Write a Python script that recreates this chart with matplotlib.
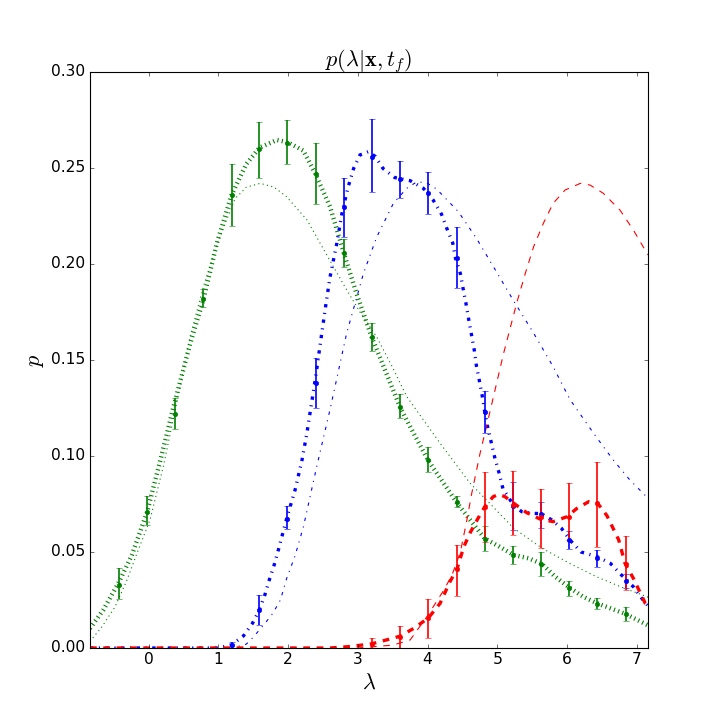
import matplotlib
matplotlib.use("Agg")
import matplotlib.pyplot as plt

# bin centres of the sampled histograms
bin_x = [-0.43, -0.02, 0.38, 0.78, 1.19, 1.59, 1.99, 2.40, 2.80, 3.21,
         3.61, 4.01, 4.42, 4.82, 5.22, 5.63, 6.03, 6.43, 6.84]

# green samples (all bins)
green_p = [0.033, 0.071, 0.122, 0.182, 0.236, 0.260, 0.263, 0.247, 0.2056, 0.162,
           0.1257, 0.0978, 0.0762, 0.0569, 0.0485, 0.0438, 0.0313, 0.023, 0.0177]
green_lo = [0.0254, 0.064, 0.114, 0.1774, 0.2198, 0.245, 0.252, 0.2313, 0.1983, 0.1547,
            0.1196, 0.0915, 0.0733, 0.0503, 0.0438, 0.0376, 0.0271, 0.0203, 0.0141]
green_hi = [0.0415, 0.079, 0.130, 0.1868, 0.2519, 0.274, 0.275, 0.263, 0.2128, 0.1691,
            0.1321, 0.1045, 0.0793, 0.0636, 0.0532, 0.0501, 0.035, 0.0261, 0.0214]

# blue samples (from bin 1.19 on)
blue_p = [0.0016, 0.0198, 0.067, 0.138, 0.2295, 0.2559, 0.2441, 0.2368, 0.2033, 0.123,
          0.0741, 0.0699, 0.0564, 0.047, 0.035]
blue_lo = [0.0, 0.012, 0.062, 0.125, 0.2139, 0.2373, 0.2342, 0.2259, 0.1873, 0.112,
           0.0616, 0.0626, 0.0517, 0.0423, 0.0313]
blue_hi = [0.0033, 0.0276, 0.074, 0.1509, 0.245, 0.2753, 0.2538, 0.2477, 0.2194, 0.134,
           0.0866, 0.0762, 0.061, 0.051, 0.0386]

# red samples (from bin 3.21 on)
red_p = [0.0022, 0.0057, 0.0156, 0.041, 0.0736, 0.0745, 0.068, 0.0683, 0.0753, 0.0435]
red_lo = [0.0, 0.0, 0.005, 0.0271, 0.055, 0.0589, 0.0519, 0.0563, 0.0528, 0.030]
red_hi = [0.0052, 0.0115, 0.0254, 0.0537, 0.0915, 0.0924, 0.0826, 0.0858, 0.097, 0.0585]

# posterior curves (thick)
green_fit_x = [-0.84, -0.65, -0.43, -0.24, -0.02, 0.17, 0.36, 0.6, 0.79, 0.98, 1.19, 1.4,
               1.59, 1.84, 1.99, 2.22, 2.39, 2.6, 2.8, 2.98, 3.2, 3.37, 3.61, 3.8, 4.01,
               4.23, 4.42, 4.61, 4.82, 5.03, 5.23, 5.45, 5.64, 5.83, 6.04, 6.23, 6.43,
               6.62, 6.84, 7.16]
green_fit_y = [0.0102, 0.0198, 0.034, 0.0484, 0.071, 0.098, 0.126, 0.159, 0.182, 0.211,
               0.236, 0.252, 0.2606, 0.2646, 0.2635, 0.259, 0.247, 0.230, 0.2056, 0.1847,
               0.1618, 0.1465, 0.125, 0.1118, 0.0976, 0.0858, 0.0757, 0.0667, 0.057,
               0.0528, 0.0485, 0.0467, 0.0438, 0.0371, 0.0313, 0.0267, 0.0233, 0.0207,
               0.0177, 0.0118]

blue_fit_x = [-0.84, 1.0, 1.19, 1.36, 1.49, 1.59, 1.67, 1.73, 1.80, 1.86, 1.98, 2.10, 2.20,
              2.27, 2.33, 2.39, 2.46, 2.53, 2.60, 2.70, 2.77, 2.86, 2.94, 3.03, 3.15,
              3.25, 3.36, 3.53, 3.75, 3.94, 4.08, 4.20, 4.275, 4.36, 4.40, 4.47, 4.51,
              4.55, 4.59, 4.63, 4.67, 4.70, 4.74, 4.78, 4.82, 4.86, 4.91, 4.96, 5.02,
              5.08, 5.23, 5.35, 5.52, 5.63, 5.78, 5.92, 6.04, 6.20, 6.43, 6.62, 6.78,
              6.95, 7.07, 7.16]
blue_fit_y = [0.0, 0.0, 0.0016, 0.0063, 0.0129, 0.020, 0.028, 0.0354, 0.0432, 0.051,
              0.0675, 0.0823, 0.098, 0.112, 0.126, 0.140, 0.158, 0.176, 0.193, 0.211,
              0.226, 0.240, 0.2498, 0.2568, 0.2585, 0.256, 0.2498, 0.245, 0.2434, 0.2394,
              0.2333, 0.2259, 0.2186, 0.211, 0.203, 0.195, 0.187, 0.1795, 0.171, 0.163,
              0.155, 0.147, 0.1396, 0.132, 0.123, 0.1153, 0.1075, 0.0996, 0.0918, 0.083,
              0.0745, 0.071, 0.0701, 0.070, 0.0667, 0.0623, 0.0563, 0.050, 0.0476,
              0.0441, 0.038, 0.0319, 0.0259, 0.022]

red_fit_x = [-0.84, 2.6, 2.9, 3.2, 3.37, 3.61, 3.80, 4.01, 4.18, 4.32, 4.42, 4.52, 4.61,
             4.71, 4.82, 4.94, 5.02, 5.11, 5.25, 5.42, 5.61, 5.80, 6.00, 6.14, 6.31,
             6.45, 6.57, 6.66, 6.74, 6.83, 6.95, 7.12, 7.16]
red_fit_y = [0.0, 0.0, 0.0008, 0.0022, 0.0038, 0.0062, 0.0102, 0.0156, 0.0233, 0.0345,
             0.041, 0.0528, 0.060, 0.0667, 0.0736, 0.0788, 0.080, 0.0788, 0.075, 0.0705,
             0.0672, 0.0658, 0.0684, 0.0727, 0.0762, 0.0748, 0.069, 0.0623, 0.0563,
             0.0441, 0.0363, 0.0233, 0.022]

# prior curves (thin)
green_prior_x = [-0.84, -0.67, -0.48, -0.31, -0.17, 0.02, 0.21, 0.40, 0.6, 0.8, 1.0, 1.24,
                 1.4, 1.6, 1.8, 1.98, 2.27, 2.46, 2.65, 2.84, 3.03, 3.27, 3.5, 3.7, 4.18,
                 4.61, 4.9, 5.23, 5.64, 6.04, 6.43, 6.76, 7.16]
green_prior_y = [0.0035, 0.011, 0.0215, 0.0354, 0.049, 0.0667, 0.0944, 0.127, 0.163, 0.190,
                 0.212, 0.234, 0.240, 0.242, 0.240, 0.235, 0.223, 0.2108, 0.1986, 0.1865,
                 0.175, 0.162, 0.146, 0.131, 0.1066, 0.0858, 0.075, 0.0625, 0.052, 0.044,
                 0.037, 0.032, 0.0265]

blue_prior_x = [-0.84, 1.2, 1.40, 1.50, 1.67, 1.78, 1.89, 1.98, 2.10, 2.22, 2.41, 2.60,
                2.84, 3.08, 3.27, 3.51, 3.70, 3.85, 4.00, 4.13, 4.44, 4.70, 4.97, 5.23,
                5.52, 5.80, 6.04, 6.38, 6.66, 6.90, 7.16]
blue_prior_y = [0.0, 0.0, 0.002, 0.0056, 0.0129, 0.018, 0.025, 0.0363, 0.048, 0.0632,
                0.0944, 0.124, 0.164, 0.195, 0.214, 0.2316, 0.2394, 0.2429, 0.242, 0.239,
                0.2273, 0.2134, 0.197, 0.181, 0.164, 0.1465, 0.1295, 0.1118, 0.098,
                0.0875, 0.078]

red_prior_x = [-0.84, 3.0, 3.5, 3.75, 3.99, 4.23, 4.35, 4.47, 4.56, 4.63, 4.75, 4.90, 5.09,
               5.28, 5.40, 5.52, 5.66, 5.80, 5.97, 6.19, 6.33, 6.52, 6.76, 6.95, 7.16]
red_prior_y = [0.0, 0.0, 0.0015, 0.0042, 0.0163, 0.030, 0.038, 0.050, 0.066, 0.080, 0.101,
               0.124, 0.1535, 0.180, 0.195, 0.209, 0.2212, 0.2316, 0.2385, 0.242, 0.2411,
               0.2368, 0.228, 0.2177, 0.2047]


def asym_err(p, lo, hi):
    return [[a - b for a, b in zip(p, lo)], [c - a for a, c in zip(p, hi)]]


plt.style.use("classic")
plt.rcParams["font.size"] = 14

fig = plt.figure(figsize=(9, 9), dpi=80)
ax = fig.add_subplot(111)

# thick = posterior, thin = prior
ax.plot(green_fit_x, green_fit_y, "g:", lw=4)
ax.plot(green_prior_x, green_prior_y, "g:", lw=1)
ax.plot(blue_fit_x, blue_fit_y, "b-.", lw=3)
ax.plot(blue_prior_x, blue_prior_y, "b-.", lw=1)
ax.plot(red_fit_x, red_fit_y, "r--", lw=3)
ax.plot(red_prior_x, red_prior_y, "r--", lw=1)

ax.errorbar(bin_x, green_p, yerr=asym_err(green_p, green_lo, green_hi),
            fmt=".", color="g", ms=8, elinewidth=1.5, capsize=3)
ax.errorbar(bin_x[4:], blue_p, yerr=asym_err(blue_p, blue_lo, blue_hi),
            fmt=".", color="b", ms=8, elinewidth=1.5, capsize=3)
ax.errorbar(bin_x[9:], red_p, yerr=asym_err(red_p, red_lo, red_hi),
            fmt=".", color="r", ms=8, elinewidth=1.5, capsize=3)

ax.set_xlim(-0.84, 7.16)
ax.set_ylim(0, 0.30)
ax.set_xlabel(r"$\lambda$", fontsize=20)
ax.set_ylabel(r"$p$", fontsize=20)
ax.set_title(r"$p(\lambda|\mathbf{x},t_f)$", fontsize=20)

fig.savefig("out.png", dpi=80)
